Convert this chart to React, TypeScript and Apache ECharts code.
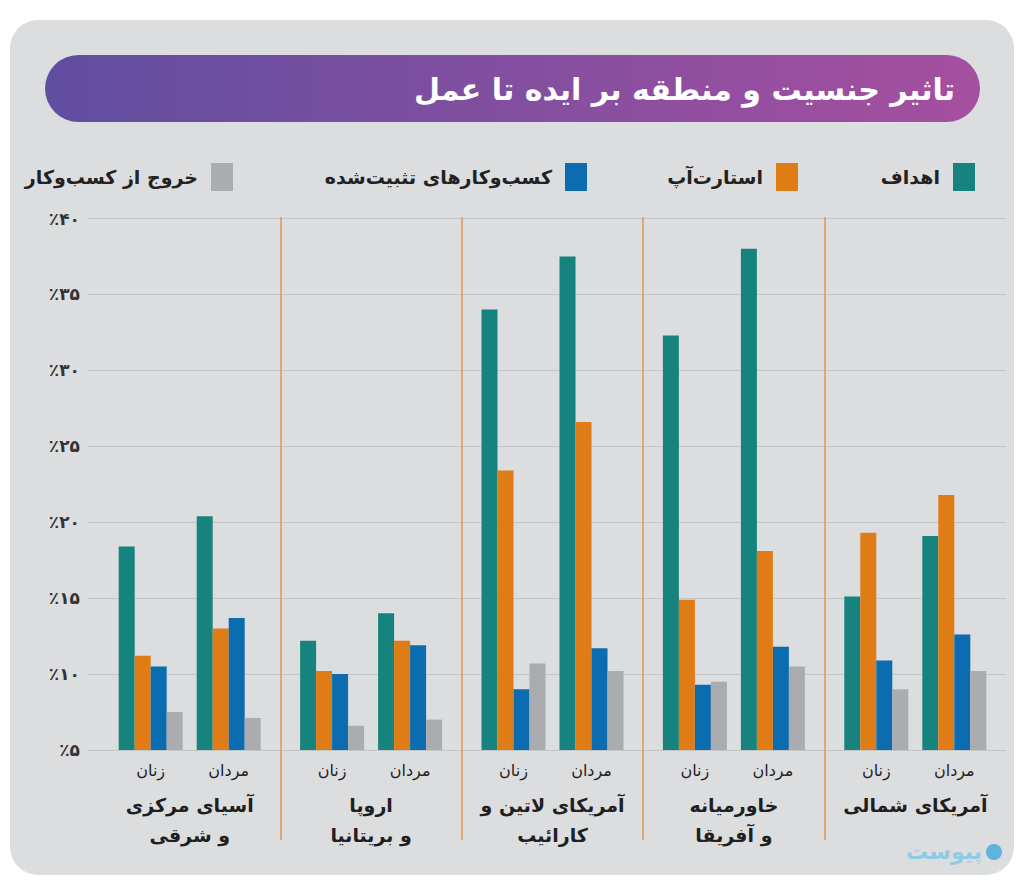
import React, { useEffect, useRef } from "react";
import * as echarts from "echarts";

const title = "تاثیر جنسیت و منطقه بر ایده تا عمل";
const regions = [
  "آسیای مرکزی\nو شرقی",
  "اروپا\nو بریتانیا",
  "آمریکای لاتین و\nکارائیب",
  "خاورمیانه\nو آفریقا",
  "آمریکای شمالی",
];
const genders = ["زنان", "مردان"];
const seriesNames = ["اهداف", "استارت‌آپ", "کسب‌وکارهای تثبیت‌شده", "خروج از کسب‌وکار"];
const colors = ["#17837f", "#e07c16", "#0b6db0", "#abacb0"];

// women (زنان) values per region
const womenGoals = [18.4, 12.2, 34.0, 32.3, 15.1];
const womenStartup = [11.2, 10.2, 23.4, 14.9, 19.3];
const womenEstablished = [10.5, 10.0, 9.0, 9.3, 10.9];
const womenExit = [7.5, 6.6, 10.7, 9.5, 9.0];
// men (مردان) values per region
const menGoals = [20.4, 14.0, 37.5, 38.0, 19.1];
const menStartup = [13.0, 12.2, 26.6, 18.1, 21.8];
const menEstablished = [13.7, 11.9, 11.7, 11.8, 12.6];
const menExit = [7.1, 7.0, 10.2, 10.5, 10.2];

const yMin = 5;
const yMax = 40;
const yStep = 5;

const FONT = "DejaVu Sans";
const toFa = (s: string) => s.replace(/\d/g, (d) => "۰۱۲۳۴۵۶۷۸۹"[+d]);

export default function App() {
  const ref = useRef<HTMLDivElement>(null);
  useEffect(() => {
    if (!ref.current) return;
    const chart = echarts.init(ref.current, undefined, { renderer: "svg" });
    const women = [womenGoals, womenStartup, womenEstablished, womenExit];
    const men = [menGoals, menStartup, menEstablished, menExit];
    const mk = (name: string, data: number[], color: string) => ({
      name,
      type: "bar",
      data,
      barWidth: 16,
      barGap: "0%",
      itemStyle: { color },
      xAxisIndex: 0,
      yAxisIndex: 0,
    });
    const series: any[] = [
      ...women.map((d, i) => mk(seriesNames[i], d, colors[i])),
      {
        name: "spacer",
        type: "bar",
        data: regions.map(() => null),
        barWidth: 14,
        barGap: "0%",
        silent: true,
        itemStyle: { color: "transparent" },
        xAxisIndex: 0,
        yAxisIndex: 0,
      },
      ...men.map((d, i) => mk(seriesNames[i], d, colors[i])),
    ];
    const legendRights = [44, 221, 432, 786];
    const legends = seriesNames.map((n, i) => ({
      data: [n],
      right: legendRights[i],
      top: 158,
      align: "right",
      icon: "rect",
      itemWidth: 22,
      itemHeight: 28,
      selectedMode: false,
      textStyle: {
        fontFamily: FONT,
        fontWeight: "bold",
        fontSize: 19,
        color: "#222",
        padding: [0, 8, 0, 0],
      },
    }));
    const option: any = {
      animation: false,
      backgroundColor: "#ffffff",
      graphic: [
        {
          type: "rect",
          z: -10,
          shape: { x: 10, y: 20, width: 1004, height: 855, r: 28 },
          style: { fill: "#dcdddf" },
        },
        {
          type: "rect",
          z: 10,
          shape: { x: 45, y: 55, width: 935, height: 67, r: 33.5 },
          style: {
            fill: new echarts.graphic.LinearGradient(0, 0, 1, 0, [
              { offset: 0, color: "#604ea0" },
              { offset: 1, color: "#a64f9f" },
            ]),
          },
        },
        {
          type: "text",
          z: 11,
          style: {
            text: title,
            x: 955,
            y: 89,
            align: "right",
            verticalAlign: "middle",
            fill: "#ffffff",
            font: `bold 30px "${FONT}"`,
          },
        },
        {
          type: "circle",
          z: 10,
          shape: { cx: 994, cy: 852, r: 8 },
          style: { fill: "#5db4dc" },
        },
        {
          type: "text",
          z: 10,
          style: {
            text: "پیوست",
            x: 982,
            y: 851,
            align: "right",
            verticalAlign: "middle",
            fill: "#8fcbe4",
            font: `bold 22px "${FONT}"`,
          },
        },
      ],
      legend: legends,
      grid: [
        { left: 99, right: 18, top: 218.5, bottom: 132 },
        { left: 99, right: 18, top: 217, bottom: 42 },
      ],
      xAxis: [
        {
          type: "category",
          gridIndex: 0,
          data: regions,
          axisLine: { show: false },
          axisTick: { show: false },
          splitLine: { show: false },
          axisLabel: {
            interval: 0,
            margin: 9,
            formatter: (v: string) => {
              const lines = v.split("\n");
              let s = `{g|${genders[0]}}{g|${genders[1]}}\n{r1|${lines[0]}}`;
              if (lines[1]) s += `\n{r2|${lines[1]}}`;
              return s;
            },
            rich: {
              g: {
                width: 78,
                align: "center",
                fontFamily: FONT,
                fontSize: 16,
                lineHeight: 22,
                color: "#1f1f1f",
              },
              r1: {
                align: "center",
                fontFamily: FONT,
                fontSize: 19,
                fontWeight: "bold",
                lineHeight: 48,
                color: "#1f1f1f",
              },
              r2: {
                align: "center",
                fontFamily: FONT,
                fontSize: 19,
                fontWeight: "bold",
                lineHeight: 12,
                color: "#1f1f1f",
              },
            },
          },
        },
        {
          type: "category",
          gridIndex: 1,
          data: regions,
          axisLine: { show: false },
          axisTick: { show: false },
          axisLabel: { show: false },
          splitLine: {
            show: true,
            showMinLine: false,
            showMaxLine: false,
            lineStyle: { color: "#e2994a", width: 1.5 },
          },
        },
      ],
      yAxis: [
        {
          type: "value",
          gridIndex: 0,
          min: yMin,
          max: yMax,
          interval: yStep,
          axisLine: { show: false },
          axisTick: { show: true, length: 11, lineStyle: { color: "#c4c5c7" } },
          splitLine: { lineStyle: { color: "#c4c5c7", width: 1 } },
          axisLabel: {
            margin: 19,
            fontFamily: FONT,
            fontSize: 17,
            fontWeight: "bold",
            color: "#333",
            formatter: (v: number) => "٪" + toFa(String(v)),
          },
        },
        {
          type: "value",
          gridIndex: 1,
          show: false,
          splitLine: { show: false },
        },
      ],
      series,
    };
    chart.setOption(option);
    return () => chart.dispose();
  }, []);
  return (
    <div
      ref={ref}
      style={{ position: "fixed", left: 0, top: 0, width: 1024, height: 882 }}
    />
  );
}
